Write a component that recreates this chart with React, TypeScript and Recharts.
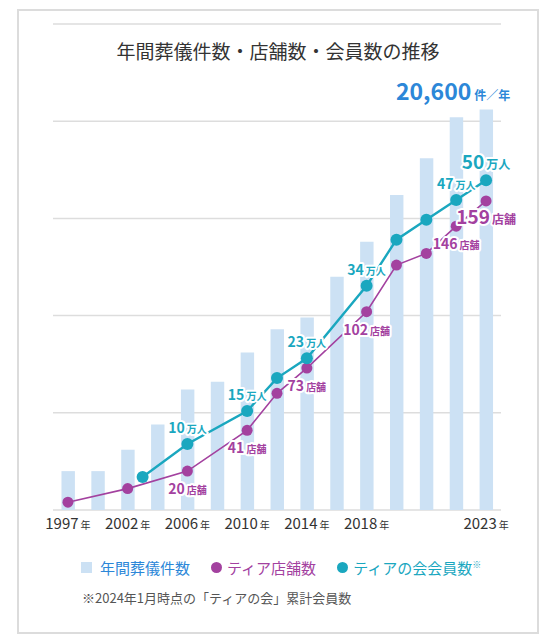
import { Bar, CartesianGrid, ComposedChart, LabelList, Line, XAxis, YAxis } from 'recharts';

const barYears = ['1997', '2000', '2002', '2004', '2006', '2008', '2010', '2012', '2014', '2016', '2018', '2020', '2021', '2022', '2023'];
const funeralCounts = [2000, 2000, 3100, 4400, 6200, 6600, 8100, 9300, 9900, 12000, 13800, 16200, 18100, 20200, 20600];
const tickIndexes = [0, 2, 4, 6, 8, 10, 14];
const gridTicks = [0, 5000, 10000, 15000, 20000];

const storeIndexes = [0, 2, 4, 6, 7, 8, 10, 11, 12, 13, 14];
const storeCounts = [4, 11, 20, 41, 60, 73, 102, 126, 132, 146, 159];
const storeLabels = ['', '', '20', '41', '', '73', '102', '', '', '146', '159'];

const memberIndexes = [2.5, 4, 6, 7, 8, 10, 11, 12, 13, 14];
const memberCounts = [5, 10, 15, 20, 23, 34, 41, 44, 47, 50];
const memberLabels = ['', '10', '15', '', '23', '34', '', '', '47', '50'];

const BAR = '#cce1f4';
const BLUE = '#2c87d8';
const PURPLE = '#a3419f';
const TEAL = '#1aa7bf';
const FONT = '"Noto Sans CJK JP", "Noto Sans", sans-serif';

const barData = funeralCounts.map((count, i) => ({ idx: i, year: barYears[i], count }));
const storeData = storeIndexes.map((idx, i) => ({ idx, v: storeCounts[i], tag: storeLabels[i] }));
const memberData = memberIndexes.map((idx, i) => ({ idx, v: memberCounts[i], tag: memberLabels[i] }));

const halo = { stroke: '#fff', strokeWidth: 4, paintOrder: 'stroke' as const, strokeLinejoin: 'round' as const };

function YearTick(props: any) {
  const { x, y, payload } = props;
  return (
    <text x={x} y={y + 11} textAnchor="middle" fill="#333" fontFamily={FONT}>
      <tspan fontSize={15}>{barYears[payload.value]}</tspan>
      <tspan fontSize={10} dx={2}>年</tspan>
    </text>
  );
}

function memberLabel(props: any) {
  const { value, index } = props;
  const x = props.x ?? props.viewBox?.x;
  const y = props.y ?? props.viewBox?.y;
  if (!value) return null;
  const big = index === memberLabels.length - 1;
  return (
    <text x={x} y={y - (big ? 11 : 11)} textAnchor="middle" fill={TEAL} fontWeight={700} fontFamily={FONT} {...halo}>
      <tspan fontSize={big ? 19 : 14}>{value}</tspan>
      <tspan fontSize={big ? 12 : 10} dx={2}>万人</tspan>
    </text>
  );
}

function storeLabel(props: any) {
  const { value, index } = props;
  const x = props.x ?? props.viewBox?.x;
  const y = props.y ?? props.viewBox?.y;
  if (!value) return null;
  const big = index === storeLabels.length - 1;
  return (
    <text x={x} y={y + (big ? 23 : 23)} textAnchor="middle" fill={PURPLE} fontWeight={700} fontFamily={FONT} {...halo}>
      <tspan fontSize={big ? 19 : 14}>{value}</tspan>
      <tspan fontSize={big ? 12 : 10} dx={2}>店舗</tspan>
    </text>
  );
}

function totalLabel(props: any) {
  const { x, y, width, index, value } = props;
  if (index !== funeralCounts.length - 1) return null;
  return (
    <text x={x + width / 2 + 24} y={y - 10} textAnchor="end" fill={BLUE} fontWeight={700} fontFamily={FONT}>
      <tspan fontSize={23}>{Number(value).toLocaleString('en-US')}</tspan>
      <tspan fontSize={12} dx={3}>件／年</tspan>
    </text>
  );
}

function LegendDot({ color }: { color: string }) {
  return <span style={{ display: 'inline-block', width: 11, height: 11, borderRadius: '50%', background: color, marginRight: 5 }} />;
}

export default function App() {
  return (
    <div style={{ position: 'absolute', left: 0, top: 0, width: 557, height: 644, background: '#fff', fontFamily: FONT }}>
      <div
        style={{
          position: 'absolute',
          left: 17,
          top: 9,
          width: 522,
          height: 625,
          boxSizing: 'border-box',
          border: '2px solid #dcdcdc',
        }}
      />
      <div style={{ position: 'absolute', left: 18, width: 520, top: 37, textAlign: 'center', fontSize: 19, color: '#333' }}>
        年間葬儀件数・店舗数・会員数の推移
      </div>
      <div style={{ position: 'absolute', left: 0, top: 0 }}>
        <ComposedChart width={557} height={540} data={barData} margin={{ top: 24, right: 56, bottom: 0, left: 53 }}>
          <CartesianGrid yAxisId="count" vertical={false} stroke="#dddddd" strokeWidth={1.5} />
          <XAxis
            dataKey="idx"
            type="number"
            domain={[-0.5, 14.5]}
            ticks={tickIndexes}
            axisLine={false}
            tickLine={false}
            height={30}
            tick={<YearTick />}
            interval={0}
          />
          <YAxis yAxisId="count" hide domain={[0, 25000]} ticks={gridTicks} />
          <YAxis yAxisId="stores" hide domain={[0, 250]} />
          <YAxis yAxisId="members" hide domain={[0, 73.7]} />
          <Bar yAxisId="count" dataKey="count" fill={BAR} barSize={16} isAnimationActive={false}>
            <LabelList dataKey="count" content={totalLabel} />
          </Bar>
          <Line
            yAxisId="stores"
            data={storeData}
            dataKey="v"
            stroke={PURPLE}
            strokeWidth={1.6}
            dot={{ r: 5.5, fill: PURPLE, stroke: 'none' }}
            activeDot={false}
            isAnimationActive={false}
          >
            <LabelList dataKey="tag" content={storeLabel} />
          </Line>
          <Line
            yAxisId="members"
            data={memberData}
            dataKey="v"
            stroke={TEAL}
            strokeWidth={2.4}
            dot={{ r: 6, fill: TEAL, stroke: 'none' }}
            activeDot={false}
            isAnimationActive={false}
          >
            <LabelList dataKey="tag" content={memberLabel} />
          </Line>
        </ComposedChart>
      </div>
      <div style={{ position: 'absolute', left: 81, top: 557, display: 'flex', alignItems: 'center', fontSize: 15, whiteSpace: 'nowrap' }}>
        <span style={{ display: 'inline-block', width: 11, height: 11, background: BAR, marginRight: 8 }} />
        <span style={{ color: BLUE, marginRight: 21 }}>年間葬儀件数</span>
        <LegendDot color={PURPLE} />
        <span style={{ color: PURPLE, marginRight: 21 }}>ティア店舗数</span>
        <LegendDot color={TEAL} />
        <span style={{ color: TEAL }}>
          ティアの会会員数<sup style={{ fontSize: 9 }}>※</sup>
        </span>
      </div>
      <div style={{ position: 'absolute', left: 82, top: 588, fontSize: 13, color: '#555', whiteSpace: 'nowrap' }}>
        ※2024年1月時点の「ティアの会」累計会員数
      </div>
    </div>
  );
}
